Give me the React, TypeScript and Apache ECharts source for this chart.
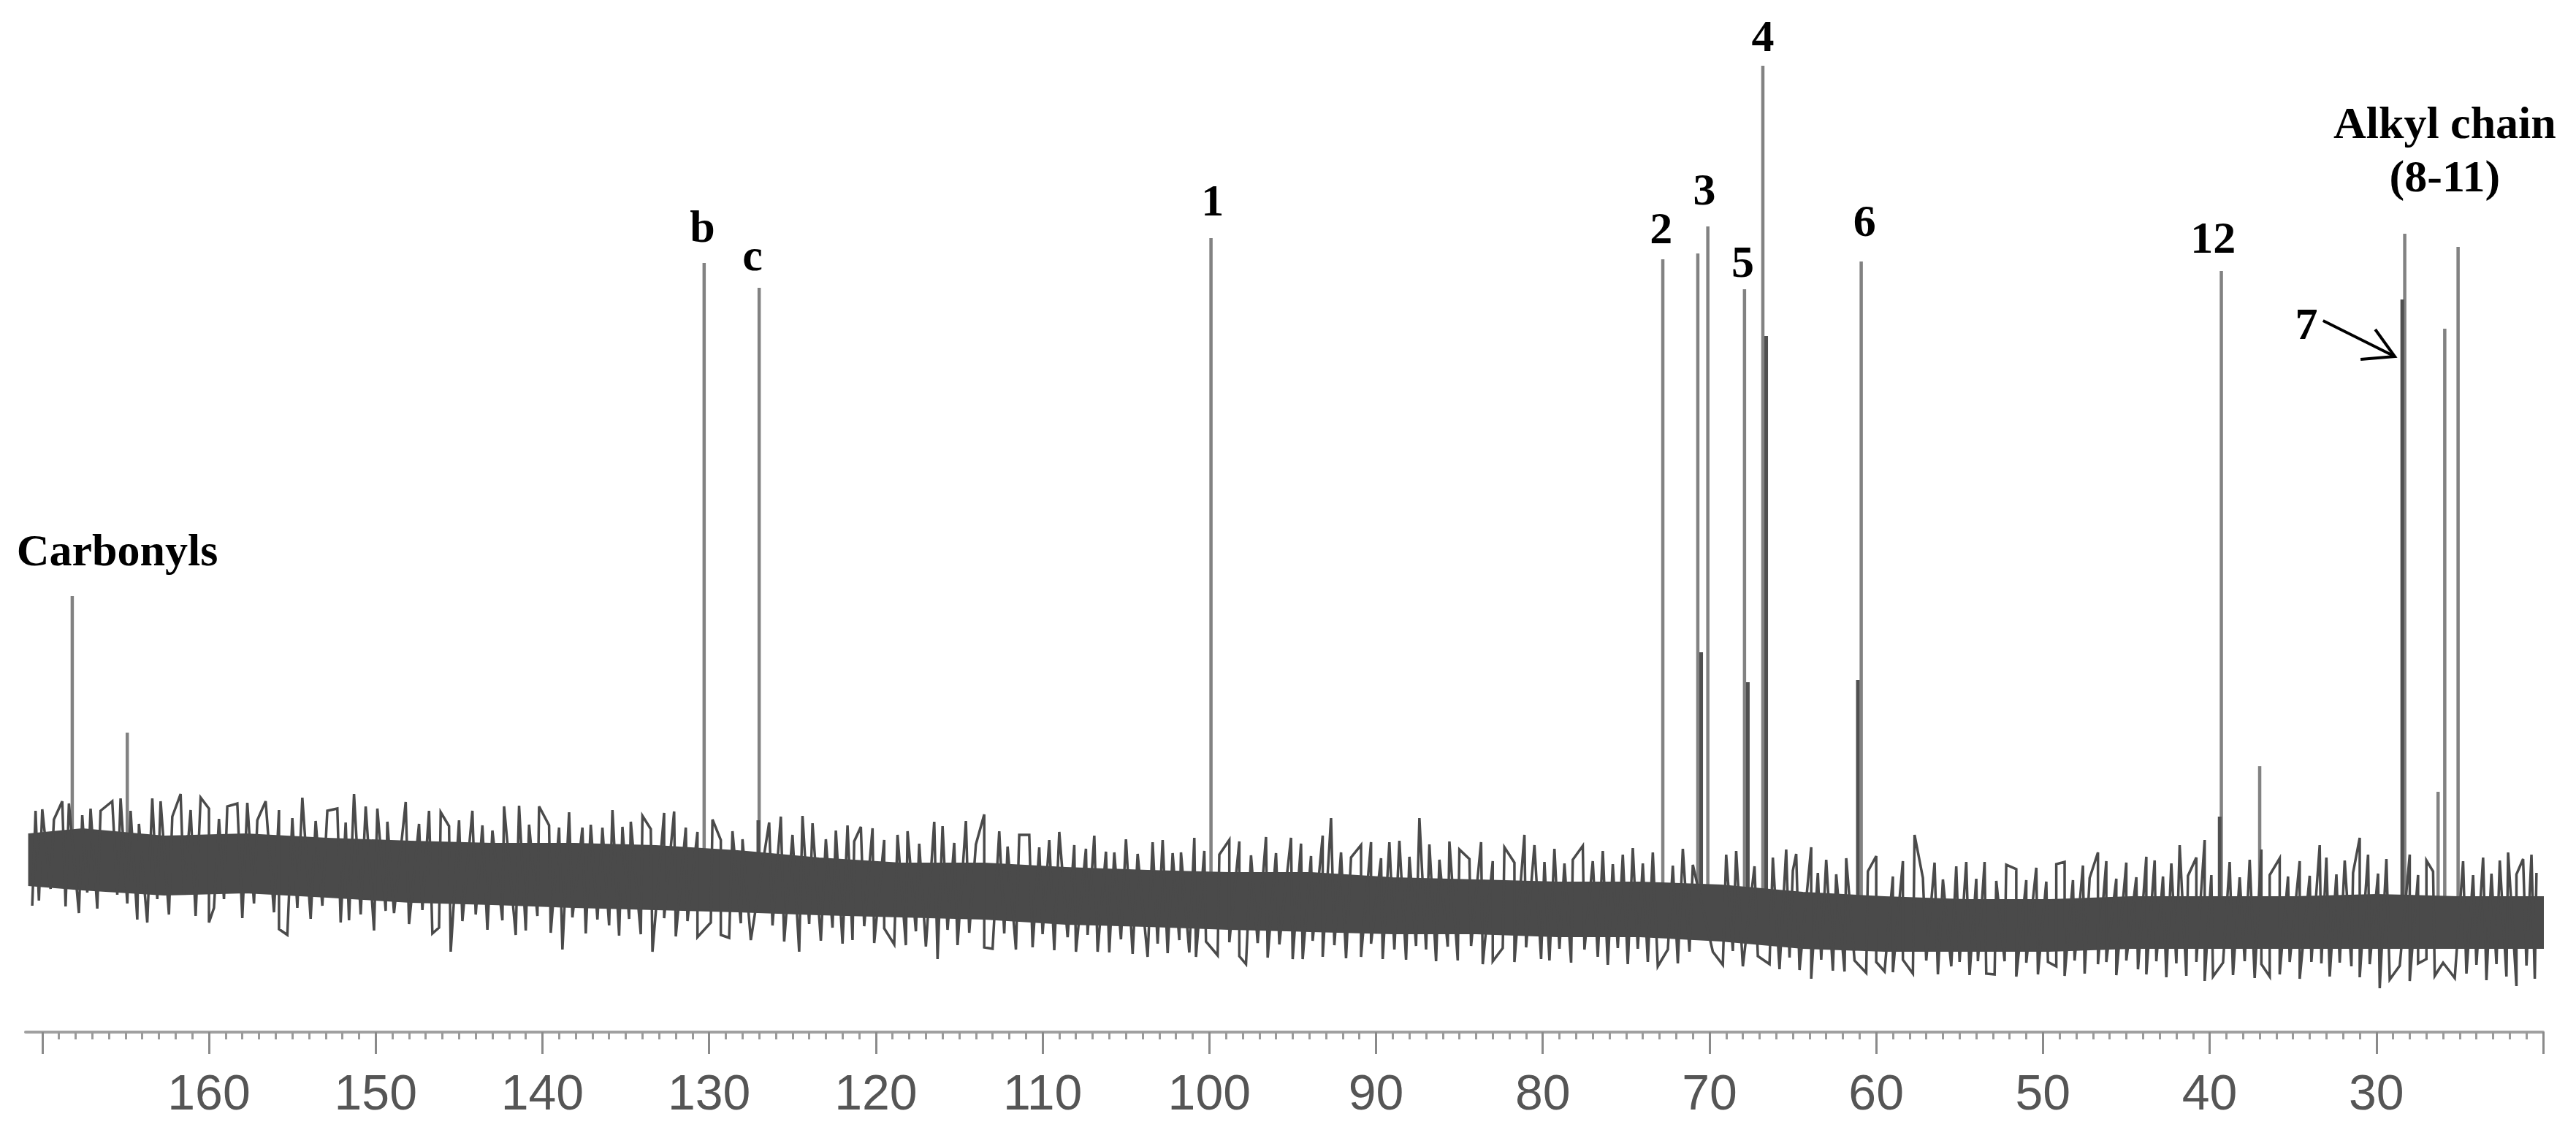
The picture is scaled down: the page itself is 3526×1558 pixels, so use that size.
import React, { useEffect, useRef } from "react";
import * as echarts from "echarts";

// ---------- axis ----------
const TICK_MAJOR = [170, 160, 150, 140, 130, 120, 110, 100, 90, 80, 70, 60, 50, 40, 30, 20];
const TICK_LABELS = [160, 150, 140, 130, 120, 110, 100, 90, 80, 70, 60, 50, 40, 30];

// ---------- dense core of the baseline noise ----------
const BAND_PPM = [170.8, 167.6, 162.7, 157.8, 152.9, 147.9, 143.0, 138.1, 133.2, 128.3, 123.4, 118.5, 113.5, 108.6, 103.7, 98.8, 93.9, 89.0, 84.0, 79.1, 74.2, 69.3, 64.4, 59.5, 54.6, 49.6, 44.7, 39.8, 34.9, 30.0, 25.1, 20.0];
const BAND_TOP = [27.1, 27.8, 26.8, 27.1, 26.5, 26.1, 25.8, 25.8, 25.5, 24.8, 23.8, 23.1, 23.1, 22.5, 22.1, 21.8, 21.8, 21.1, 20.8, 20.5, 20.5, 20.1, 19.1, 18.5, 18.1, 18.1, 18.5, 18.5, 18.5, 18.8, 18.5, 18.5];
const BAND_BOTTOM = [20.1, 19.5, 18.8, 19.1, 18.5, 17.8, 17.5, 17.1, 16.8, 16.5, 16.1, 15.8, 15.5, 14.8, 14.5, 14.1, 13.8, 13.5, 13.5, 13.1, 13.1, 12.5, 11.5, 11.1, 11.1, 11.1, 11.5, 11.5, 11.5, 11.5, 11.5, 11.5];

// ---------- noise trace extrema: large excursions ----------
const UP_PPM = [170.4, 168.8, 167.1, 165.8, 164.7, 163.4, 161.7, 160.0, 158.3, 156.6, 155.0, 152.9, 151.3, 149.9, 146.8, 145.0, 143.0, 141.4, 139.6, 137.6, 136.4, 134.7, 132.7, 129.3, 124.4, 122.4, 120.9, 118.7, 116.5, 113.5, 111.4, 109.6, 108.1, 105.7, 103.4, 101.7, 98.8, 95.1, 92.7, 90.9, 89.2, 87.4, 85.0, 81.1, 78.2, 75.2, 65.4, 63.9, 57.7, 54.6, 51.6, 48.7, 46.7, 43.8, 41.8, 40.3, 36.9, 33.4, 31.0, 28.0, 22.1, 20.7];
const UP_Y = [30.3, 31.6, 30.6, 31.6, 30.3, 32.0, 32.6, 30.6, 31.3, 31.6, 29.3, 30.3, 32.6, 30.6, 30.3, 29.0, 27.6, 31.0, 28.3, 28.0, 28.0, 28.8, 30.0, 26.3, 29.6, 27.6, 28.1, 27.0, 28.8, 29.8, 27.0, 26.3, 25.6, 24.6, 26.0, 24.6, 26.3, 26.6, 29.3, 25.6, 26.0, 29.3, 25.0, 27.0, 23.6, 24.3, 25.0, 25.3, 27.0, 23.3, 22.3, 23.3, 24.6, 24.0, 25.6, 26.3, 25.0, 25.6, 26.6, 24.3, 24.6, 24.3];
const DOWN_PPM = [170.6, 167.8, 163.7, 160.0, 155.3, 152.1, 148.9, 146.2, 145.5, 141.6, 138.8, 136.0, 133.4, 129.3, 124.6, 121.4, 118.9, 116.3, 113.5, 110.6, 106.7, 103.7, 100.8, 97.8, 94.4, 90.9, 87.0, 83.6, 80.1, 76.7, 73.7, 69.8, 66.4, 63.9, 61.9, 59.5, 55.5, 53.4, 49.2, 46.7, 44.3, 40.3, 36.4, 33.9, 31.5, 29.8, 27.0, 24.6, 21.6];
const DOWN_Y = [17.3, 16.3, 15.0, 15.0, 13.3, 15.0, 16.3, 14.3, 11.0, 13.3, 11.3, 14.6, 11.0, 13.3, 11.0, 12.6, 12.0, 10.0, 11.6, 11.6, 11.0, 10.3, 10.3, 9.3, 10.0, 10.3, 11.3, 9.3, 10.0, 10.3, 9.6, 11.0, 9.3, 7.3, 8.3, 8.3, 9.0, 8.0, 9.0, 9.3, 8.6, 7.0, 7.6, 9.6, 9.0, 6.0, 10.0, 8.0, 6.3];

// ---------- noise trace extrema: smaller, dense excursions ----------
const FINE_UP_PPM = [170.0, 169.3, 168.4, 167.6, 166.5, 165.3, 164.2, 162.9, 162.2, 161.1, 160.5, 159.4, 158.9, 157.7, 157.1, 155.8, 154.4, 153.6, 152.3, 151.8, 150.6, 149.3, 148.2, 147.4, 146.1, 145.6, 144.2, 143.6, 142.3, 140.8, 140.2, 139.0, 138.4, 137.1, 135.8, 135.2, 134.0, 133.5, 132.1, 131.4, 130.7, 129.8, 128.6, 128.0, 126.4, 125.7, 125.0, 123.8, 123.0, 121.7, 121.3, 120.2, 119.5, 118.1, 117.4, 116.0, 115.3, 114.6, 114.0, 112.6, 112.1, 110.8, 110.2, 109.0, 107.4, 106.9, 106.2, 105.0, 104.3, 102.8, 102.2, 100.9, 100.3, 99.4, 98.2, 97.5, 96.6, 96.0, 94.5, 93.9, 93.2, 92.1, 91.5, 90.3, 89.7, 88.6, 88.0, 86.8, 86.2, 85.6, 84.4, 83.7, 83.0, 82.3, 81.7, 80.5, 79.9, 79.3, 78.7, 77.6, 77.0, 76.4, 75.8, 74.6, 74.0, 73.4, 72.2, 71.6, 71.0, 69.0, 68.4, 67.3, 66.2, 65.0, 64.8, 63.5, 63.0, 62.4, 61.8, 60.5, 60.0, 59.0, 58.4, 57.2, 56.5, 56.0, 55.2, 54.0, 53.5, 52.8, 52.2, 51.0, 50.4, 49.8, 49.2, 48.2, 47.6, 47.2, 46.2, 45.6, 45.0, 44.4, 43.3, 42.8, 42.3, 41.3, 40.8, 39.9, 38.8, 38.2, 37.6, 36.4, 35.8, 35.3, 34.6, 34.0, 33.0, 32.4, 31.9, 31.4, 30.5, 29.9, 29.4, 27.5, 27.0, 26.6, 24.8, 24.2, 23.6, 23.1, 22.6, 21.6, 21.2, 20.4];
const FINE_UP_Y = [30.5, 29.1, 31.3, 29.7, 30.3, 32.0, 28.5, 31.6, 29.5, 30.4, 32.1, 29.2, 30.9, 31.4, 29.0, 30.4, 32.1, 28.9, 30.6, 28.7, 30.9, 28.8, 31.5, 28.5, 30.1, 28.2, 30.3, 28.3, 30.9, 28.4, 30.9, 28.0, 30.1, 28.4, 30.4, 28.1, 29.6, 27.8, 30.2, 28.0, 27.4, 29.1, 27.5, 26.4, 28.7, 29.5, 27.0, 28.6, 26.4, 28.3, 26.1, 27.9, 26.3, 27.5, 25.8, 28.2, 25.9, 28.9, 25.7, 27.5, 25.4, 27.0, 25.3, 27.4, 25.1, 26.9, 24.7, 26.4, 24.4, 26.3, 24.5, 26.6, 24.8, 24.3, 26.1, 24.2, 26.7, 24.5, 25.8, 24.1, 26.9, 24.6, 23.9, 26.0, 23.8, 26.2, 24.0, 25.7, 23.6, 26.1, 23.7, 26.0, 23.4, 25.3, 23.2, 25.6, 23.3, 25.1, 23.1, 25.5, 23.4, 24.8, 23.0, 25.2, 23.1, 24.6, 22.8, 25.1, 22.9, 24.3, 24.8, 22.7, 23.9, 22.1, 24.4, 21.8, 23.6, 21.6, 23.8, 22.0, 24.1, 21.3, 23.4, 21.1, 23.2, 20.9, 22.7, 21.0, 23.3, 20.7, 22.9, 20.8, 22.5, 20.6, 23.0, 20.8, 22.8, 21.1, 23.4, 21.0, 23.2, 21.2, 23.5, 21.3, 23.1, 21.4, 23.9, 21.5, 23.3, 21.2, 23.6, 21.5, 23.8, 21.3, 23.4, 21.4, 23.9, 21.6, 23.5, 21.8, 24.3, 21.7, 23.7, 21.5, 23.5, 22.0, 23.4, 21.5, 23.9, 21.7, 23.5, 21.6, 23.7, 21.8];
const FINE_DOWN_PPM = [170.2, 169.5, 168.6, 167.3, 166.7, 165.5, 164.9, 164.3, 163.1, 162.4, 161.5, 160.8, 159.7, 159.1, 158.0, 157.3, 156.1, 155.8, 154.7, 153.9, 153.2, 151.6, 150.9, 150.1, 149.4, 148.0, 147.2, 146.6, 144.8, 144.0, 143.3, 142.4, 141.0, 140.3, 139.5, 138.2, 137.4, 136.7, 135.4, 134.8, 134.1, 132.7, 132.0, 131.3, 130.7, 129.9, 128.8, 128.1, 127.5, 126.2, 125.5, 124.0, 123.3, 122.6, 122.0, 120.7, 120.1, 119.5, 118.2, 117.6, 117.0, 115.7, 115.1, 114.4, 113.0, 112.3, 111.6, 110.0, 109.3, 108.5, 108.0, 107.3, 106.0, 105.3, 104.6, 103.1, 102.5, 101.8, 101.2, 100.2, 99.5, 98.8, 98.2, 97.1, 96.5, 95.8, 95.0, 93.8, 93.2, 92.5, 91.8, 90.3, 89.6, 88.9, 88.2, 87.6, 86.4, 85.7, 85.1, 84.3, 83.0, 82.4, 81.7, 81.0, 79.6, 79.0, 78.3, 77.5, 76.1, 75.5, 74.9, 74.3, 73.1, 72.5, 71.9, 71.2, 69.2, 68.6, 68.0, 67.1, 65.8, 65.2, 64.6, 63.3, 62.6, 61.3, 60.6, 60.0, 59.0, 58.4, 57.8, 57.0, 56.3, 55.0, 54.4, 53.9, 52.9, 52.3, 51.6, 51.0, 50.3, 49.7, 48.7, 48.1, 47.5, 46.2, 45.6, 45.0, 43.8, 43.2, 42.6, 42.0, 41.4, 40.8, 39.8, 39.2, 38.6, 37.9, 37.3, 36.9, 35.8, 35.2, 34.6, 33.3, 32.8, 32.2, 31.0, 30.4, 29.2, 28.6, 28.0, 27.5, 26.5, 26.0, 25.3, 24.0, 23.4, 22.8, 22.2, 21.0, 20.5];
const FINE_DOWN_Y = [18.0, 19.6, 17.2, 19.1, 16.9, 18.8, 17.6, 15.4, 18.2, 16.1, 18.9, 15.9, 17.0, 18.2, 15.6, 17.6, 16.4, 14.1, 17.0, 15.5, 17.3, 15.3, 16.1, 13.9, 16.6, 14.8, 16.7, 13.5, 15.2, 16.1, 14.0, 15.3, 13.9, 15.9, 13.6, 15.7, 13.5, 15.4, 13.2, 15.5, 13.4, 15.6, 13.1, 15.2, 13.0, 15.0, 12.9, 14.9, 12.6, 14.6, 12.4, 14.8, 12.5, 14.3, 12.1, 14.5, 12.2, 14.2, 11.9, 13.8, 11.7, 14.0, 11.9, 13.6, 11.4, 13.5, 11.3, 13.4, 11.2, 13.0, 11.0, 13.3, 10.9, 12.7, 10.7, 12.1, 10.8, 12.6, 10.9, 12.4, 10.5, 12.3, 10.4, 12.2, 10.2, 12.0, 10.0, 12.5, 10.3, 11.9, 10.1, 12.1, 10.0, 11.3, 9.9, 11.8, 9.7, 11.7, 9.8, 11.8, 9.7, 11.5, 9.6, 11.6, 9.8, 11.4, 9.5, 11.3, 9.2, 11.5, 9.3, 11.4, 9.0, 11.3, 9.4, 11.0, 9.2, 11.1, 9.0, 10.4, 8.6, 10.2, 8.5, 9.9, 8.4, 9.8, 8.1, 9.6, 8.2, 9.9, 8.0, 9.8, 7.9, 9.6, 7.8, 9.7, 7.9, 9.7, 7.6, 9.5, 7.9, 9.6, 7.7, 9.8, 8.0, 9.6, 7.8, 9.8, 7.9, 9.7, 7.5, 9.4, 7.7, 9.6, 7.6, 9.5, 7.8, 9.7, 7.4, 9.3, 7.9, 9.6, 7.3, 9.4, 7.6, 9.5, 7.5, 9.3, 7.2, 9.1, 7.0, 9.4, 7.7, 9.5, 7.4, 9.2, 7.1, 9.3, 7.6, 9.1, 7.3];

// ---------- resonances ----------
const PEAK_PPM = [168.2, 164.9, 130.3, 127.0, 99.9, 72.8, 70.7, 70.1, 67.9, 66.8, 60.9, 39.3, 37.0, 28.3, 26.3, 25.9, 25.1];
const PEAK_HEIGHT = [59.7, 41.0, 105.3, 101.9, 108.7, 105.8, 106.6, 110.3, 101.7, 132.3, 105.5, 104.2, 36.4, 109.3, 32.9, 96.3, 107.5];
const SHOULDER_PPM = [66.6, 67.7, 61.1, 28.45, 70.5, 39.4, 127.05];
const SHOULDER_HEIGHT = [95.3, 47.9, 48.2, 100.3, 52.0, 29.5, 29.0];

// ---------- annotations ----------
const LABEL_TEXT = ["Carbonyls", "b", "c", "1", "2", "3", "4", "5", "6", "12", "7", "Alkyl chain", "(8-11)"];
const LABEL_PPM = [165.5, 130.4, 127.4, 99.8, 72.9, 70.3, 66.8, 68.0, 60.7, 39.8, 34.2, 25.9, 25.9];
const LABEL_Y = [66.0, 110.3, 106.4, 113.9, 110.1, 115.4, 136.4, 105.5, 111.1, 108.8, 97.0, 124.5, 117.2];
const ARROW_PPM = [33.2, 28.9];
const ARROW_Y = [97.4, 92.5];
const ARROW_HEAD_PPM = [30.07, 28.9, 30.95];
const ARROW_HEAD_Y = [96.2, 92.5, 92.1];

function bandMid(ppm: number): number {
  // centre of the dense core at a given shift (used only to anchor the peak sticks)
  for (let i = 0; i < BAND_PPM.length - 1; i++) {
    const a = BAND_PPM[i], b = BAND_PPM[i + 1];
    if (ppm <= a && ppm >= b) {
      const t = (a - ppm) / (a - b);
      const m1 = (BAND_TOP[i] + BAND_BOTTOM[i]) / 2;
      const m2 = (BAND_TOP[i + 1] + BAND_BOTTOM[i + 1]) / 2;
      return m1 + (m2 - m1) * t;
    }
  }
  return (BAND_TOP[0] + BAND_BOTTOM[0]) / 2;
}

const serif = '"Liberation Serif", "Times New Roman", Times, serif';

export default function App() {
  const ref = useRef<HTMLDivElement>(null);
  useEffect(() => {
    if (!ref.current) return;
    const chart = echarts.init(ref.current, null, { renderer: "svg" });

    const stickRender = (color: string, width: number) => (params: any, api: any) => {
      const ppm = api.value(0);
      const h = api.value(1);
      const p1 = api.coord([ppm, h]);
      const p2 = api.coord([ppm, bandMid(ppm)]);
      return {
        type: "line",
        shape: { x1: p1[0], y1: p1[1], x2: p2[0], y2: p2[1] },
        style: { stroke: color, lineWidth: width },
      };
    };

    // noise trace: all read extrema in order of chemical shift (high -> low)
    const trace: number[][] = [];
    UP_PPM.forEach((p, i) => trace.push([p, UP_Y[i]]));
    DOWN_PPM.forEach((p, i) => trace.push([p, DOWN_Y[i]]));
    FINE_UP_PPM.forEach((p, i) => trace.push([p, FINE_UP_Y[i]]));
    FINE_DOWN_PPM.forEach((p, i) => trace.push([p, FINE_DOWN_Y[i]]));
    trace.sort((a, b) => b[0] - a[0]);

    const option: any = {
      animation: false,
      backgroundColor: "#ffffff",
      grid: { left: 35, right: 45, top: 13, bottom: 145 },
      xAxis: {
        type: "value",
        inverse: true,
        min: 20,
        max: 171,
        interval: 10,
        splitLine: { show: false },
        axisLine: { show: true, lineStyle: { color: "#a0a0a0", width: 4 } },
        axisTick: {
          show: true,
          customValues: TICK_MAJOR,
          length: 30,
          lineStyle: { color: "#8a8a8a", width: 3 },
        },
        minorTick: { show: true, splitNumber: 10, length: 10, lineStyle: { color: "#9a9a9a", width: 3 } },
        minorSplitLine: { show: false },
        axisLabel: {
          customValues: TICK_LABELS,
          fontSize: 68,
          color: "#555555",
          margin: 48,
          fontFamily: '"Liberation Sans Narrow", "Arial Narrow", "Liberation Sans", Arial, sans-serif',
        },
      },
      yAxis: { type: "value", min: 0, max: 140, show: false },
      series: [
        {
          type: "custom",
          name: "peaks",
          clip: false,
          z: 2,
          data: PEAK_PPM.map((p, i) => [p, PEAK_HEIGHT[i]]),
          renderItem: stickRender("#828282", 4.5),
        },
        {
          type: "custom",
          name: "shoulders",
          clip: false,
          z: 3,
          data: SHOULDER_PPM.map((p, i) => [p, SHOULDER_HEIGHT[i]]),
          renderItem: stickRender("#505050", 5),
        },
        {
          type: "custom",
          name: "core",
          clip: false,
          z: 4,
          data: [[BAND_PPM[0], BAND_TOP[0]]],
          renderItem: (params: any, api: any) => {
            const pts: number[][] = [];
            for (let i = 0; i < BAND_PPM.length; i++) pts.push(api.coord([BAND_PPM[i], BAND_TOP[i]]));
            for (let i = BAND_PPM.length - 1; i >= 0; i--) pts.push(api.coord([BAND_PPM[i], BAND_BOTTOM[i]]));
            return { type: "polygon", shape: { points: pts }, style: { fill: "#4a4a4a", stroke: "#4a4a4a", lineWidth: 2 } };
          },
        },
        {
          type: "line",
          name: "noise",
          z: 5,
          data: trace,
          symbol: "none",
          smooth: false,
          lineStyle: { color: "#4a4a4a", width: 3.5, join: "miter" },
        },
        {
          type: "custom",
          name: "labels",
          clip: false,
          z: 10,
          data: LABEL_PPM.map((p, i) => [p, LABEL_Y[i], i]),
          renderItem: (params: any, api: any) => {
            const p = api.coord([api.value(0), api.value(1)]);
            return {
              type: "text",
              x: p[0],
              y: p[1],
              style: {
                text: LABEL_TEXT[params.dataIndex],
                fill: "#000000",
                font: `bold 62px ${serif}`,
                align: "center",
                verticalAlign: "middle",
              },
            };
          },
        },
        {
          type: "custom",
          name: "arrow",
          clip: false,
          z: 10,
          data: [[ARROW_PPM[0], ARROW_Y[0]]],
          renderItem: (params: any, api: any) => {
            const shaft = ARROW_PPM.map((p, i) => api.coord([p, ARROW_Y[i]]));
            const head = ARROW_HEAD_PPM.map((p, i) => api.coord([p, ARROW_HEAD_Y[i]]));
            return {
              type: "group",
              children: [
                { type: "polyline", shape: { points: shaft }, style: { stroke: "#000", lineWidth: 4, fill: null } },
                { type: "polyline", shape: { points: head }, style: { stroke: "#000", lineWidth: 4, fill: null } },
              ],
            };
          },
        },
      ],
    };
    chart.setOption(option);
    return () => chart.dispose();
  }, []);
  return (
    <div
      ref={ref}
      style={{ position: "fixed", left: 0, top: 0, width: 3526, height: 1558, background: "#ffffff" }}
    />
  );
}
